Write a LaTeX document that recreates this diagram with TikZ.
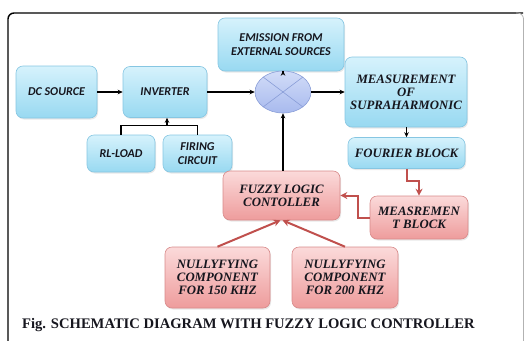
\documentclass[tikz,border=0pt]{standalone}
\usepackage{fontspec}
\setmainfont{Liberation Serif}
\newfontfamily\carlito{Carlito}
\usetikzlibrary{arrows.meta,shapes.geometric,shadows,calc}
\definecolor{bluetop}{HTML}{D6F2FC}
\definecolor{bluebot}{HTML}{98D9F1}
\definecolor{blueline}{HTML}{86C6E2}
\definecolor{pinktop}{HTML}{FBDADA}
\definecolor{pinkbot}{HTML}{EE9C9C}
\definecolor{pinkline}{HTML}{D88A8A}
\definecolor{elltop}{HTML}{D2DCF8}
\definecolor{ellbot}{HTML}{A8BAEE}
\definecolor{ellline}{HTML}{8A9ED8}
\definecolor{redarr}{HTML}{C0504D}
\definecolor{txt}{HTML}{16161E}
\tikzset{
  box/.style={rounded corners=7pt, draw=blueline, line width=0.6pt,
    top color=bluetop, bottom color=bluebot, text=txt, align=center,
    drop shadow={opacity=0.18, shadow xshift=1pt, shadow yshift=-1.5pt}},
  sansbox/.style={box, font=\carlito\bfseries\itshape\fontsize{12}{14.5}\selectfont},
  serifbox/.style={box, font=\bfseries\itshape\fontsize{12.8}{13}\selectfont},
  pinkbox/.style={serifbox, draw=pinkline, top color=pinktop, bottom color=pinkbot},
  blk/.style={-{Stealth[length=5pt,width=4.5pt]}, line width=1.2pt, draw=black},
  redar/.style={-{Stealth[length=7pt,width=7pt]}, line width=2pt, draw=redarr},
}
\begin{document}
\begin{tikzpicture}[x=1pt,y=-1pt]
\useasboundingbox (0,0) rectangle (526,340);
% frame
\draw[line width=1.4pt, black, rounded corners=6pt] (8,350) -- (8,13) -- (523,13);
\draw[line width=0.8pt, gray!60, rounded corners=6pt] (516,13) -- (523.5,13) -- (523.5,350);
% nodes
\node[sansbox, minimum width=81pt, minimum height=52pt] (dc) at (56.5,92) {DC SOURCE};
\node[sansbox, minimum width=84pt, minimum height=51pt] (inv) at (165,92) {INVERTER};
\node[sansbox, minimum width=126pt, minimum height=53pt] (emi) at (281,44.5) {EMISSION FROM\\EXTERNAL SOURCES};
\node[ellipse, draw=ellline, line width=0.6pt, top color=elltop, bottom color=ellbot,
      minimum width=56pt, minimum height=42pt, inner sep=0pt] (sum) at (283,92) {};
\draw[ellline, line width=0.6pt] (sum.north east) -- (sum.south west);
\draw[ellline, line width=0.6pt] (sum.north west) -- (sum.south east);
\node[serifbox, minimum width=122pt, minimum height=70pt] (meas) at (406,92) {MEASUREMENT\\OF\\SUPRAHARMONIC};
\node[sansbox, minimum width=68pt, minimum height=37pt] (rl) at (121,153.5) {RL-LOAD};
\node[sansbox, minimum width=69pt, minimum height=37pt] (fir) at (197.5,153.5) {FIRING\\CIRCUIT};
\node[serifbox, minimum width=117pt, minimum height=31pt] (four) at (406.5,153) {FOURIER BLOCK};
\node[pinkbox, minimum width=117pt, minimum height=49pt] (fuz) at (281.5,195.5) {FUZZY LOGIC\\CONTOLLER};
\node[pinkbox, minimum width=98pt, minimum height=43pt] (mb) at (419,217.5) {MEASREMEN\\T BLOCK};
\node[pinkbox, minimum width=105pt, minimum height=61pt] (n1) at (217.5,277.5) {NULLYFYING\\COMPONENT\\FOR 150 KHZ};
\node[pinkbox, minimum width=106pt, minimum height=61pt] (n2) at (345,277.5) {NULLYFYING\\COMPONENT\\FOR 200 KHZ};
\node[anchor=base west, font=\bfseries\fontsize{14.6}{16}\selectfont, text=txt, inner sep=0pt] (cap) at (22,328.5)
  {Fig. SCHEMATIC DIAGRAM WITH FUZZY LOGIC CONTROLLER};
% connectors
\draw[blk] (dc.east) -- (inv.west);
\draw[blk] (inv.east) -- (sum.west);
\draw[blk] (sum.east) -- (meas.west);
\draw[blk] (emi.south -| sum.north) -- (sum.north);
\coordinate (j) at ($(inv.south)+(2,8)$);
\draw[line width=1.2pt] (rl.north) |- (j) -| (fir.north);
\draw[blk] (j) -- (j |- inv.south);
\draw[blk] (fuz.north -| sum.south) -- (sum.south);
\draw[blk] (meas.south -| four.north) -- (four.north);
\draw[redar] (four.south) -- ++(0,12) -| (mb.north);
\draw[redar] (mb.west) -- ++(-12,0) |- (fuz.east);
\draw[redar] (n1.north) -- ([xshift=-1pt]fuz.south);
\draw[redar] (n2.north) -- ([xshift=1pt]fuz.south);
\end{tikzpicture}
\end{document}
